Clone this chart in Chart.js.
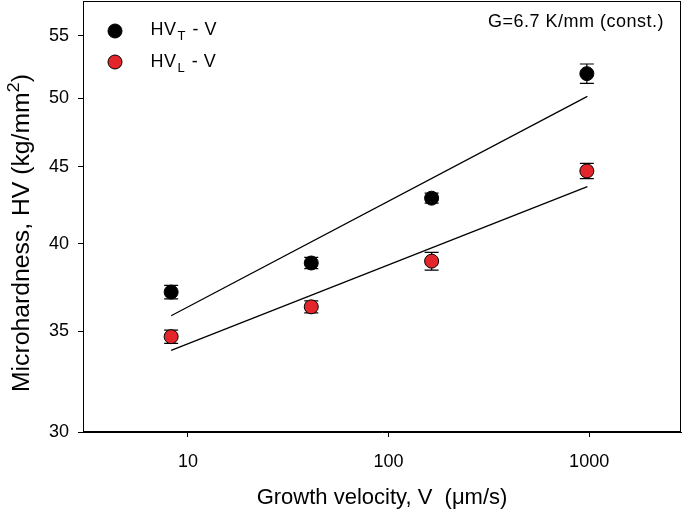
<!DOCTYPE html>
<html>
<head>
<meta charset="utf-8">
<script src="https://cdn.jsdelivr.net/npm/chart.js@4/dist/chart.umd.min.js"></script>
<style>
  html, body { margin: 0; padding: 0; background: #fff; }
  #wrap { width: 685px; height: 516px; position: relative; }
</style>
</head>
<body>
<div id="wrap"><canvas id="c"></canvas></div>
<script>
// ---- data ----
const velocity = [8.25, 41.2, 164, 974];          // growth velocity V (µm/s)
const hvT = [37.16, 38.85, 42.9, 51.9];           // HV_T (kg/mm^2)
const hvTErr = [0.38, 0.33, 0.33, 0.77];
const hvL = [34.71, 36.33, 38.96, 44.72];         // HV_L (kg/mm^2)
const hvLErr = [0.35, 0.33, 0.53, 0.52];
const fitV = [8.25, 980];                         // fit line end points (V)
const fitT = [35.84, 50.13];
const fitL = [33.99, 43.67];
const xTicks = [10, 100, 1000];
const yTicks = [30, 35, 40, 45, 50, 55];
const legendLabels = [["HV", "T", " - V"], ["HV", "L", " - V"]];
const annotationText = "G=6.7 K/mm (const.)";
const xTitle = "Growth velocity, V  (\u03BCm/s)";
const yTitleParts = ["Microhardness, HV (kg/mm", "2", ")"];

const RED = '#e2262b';
const FONT = "'Liberation Sans', Arial, sans-serif";

const pts = (xs, ys) => xs.map((x, i) => ({x: x, y: ys[i]}));

const errorBars = {
  id: 'errorBars',
  beforeDatasetsDraw(chart) {
    const ctx = chart.ctx, xs = chart.scales.x, ys = chart.scales.y;
    ctx.save();
    ctx.strokeStyle = '#000';
    ctx.lineWidth = 1.2;
    [[hvT, hvTErr], [hvL, hvLErr]].forEach(([vals, errs]) => {
      vals.forEach((v, i) => {
        const px = xs.getPixelForValue(velocity[i]);
        const top = ys.getPixelForValue(v + errs[i]);
        const bot = ys.getPixelForValue(v - errs[i]);
        ctx.beginPath();
        ctx.moveTo(px, top); ctx.lineTo(px, bot);
        ctx.moveTo(px - 7, top); ctx.lineTo(px + 7, top);
        ctx.moveTo(px - 7, bot); ctx.lineTo(px + 7, bot);
        ctx.stroke();
      });
    });
    ctx.restore();
  }
};

const decorations = {
  id: 'decorations',
  afterDraw(chart) {
    const ctx = chart.ctx, a = chart.chartArea;
    ctx.save();
    // frame
    ctx.strokeStyle = '#000';
    ctx.lineWidth = 1;
    ctx.strokeRect(a.left + 0.5, a.top + 0.5, a.right - a.left - 1, a.bottom - a.top - 1);

    ctx.fillStyle = '#000';
    ctx.textBaseline = 'alphabetic';
    // annotation
    ctx.font = '18px ' + FONT;
    ctx.letterSpacing = '0.5px';
    ctx.textAlign = 'left';
    ctx.fillText(annotationText, 488, 27);

    // legend
    const rows = [{y: 31, base: 35, color: '#000'}, {y: 62, base: 66.5, color: RED}];
    rows.forEach((r, i) => {
      ctx.beginPath();
      ctx.arc(115, r.y, 7, 0, Math.PI * 2);
      ctx.fillStyle = r.color;
      ctx.fill();
      ctx.lineWidth = 1;
      ctx.strokeStyle = '#000';
      ctx.stroke();
      ctx.fillStyle = '#000';
      let x = 150.5;
      const [a1, sub, a2] = legendLabels[i];
      ctx.font = '18px ' + FONT;
      ctx.fillText(a1, x, r.base);
      x += ctx.measureText(a1).width + 1;
      ctx.font = '13px ' + FONT;
      ctx.fillText(sub, x, r.base + 5);
      x += ctx.measureText(sub).width + 1;
      ctx.font = '18px ' + FONT;
      ctx.fillText(a2, x, r.base);
    });
    ctx.letterSpacing = '0px';

    // x title
    ctx.font = '22px ' + FONT;
    ctx.textAlign = 'center';
    ctx.fillText(xTitle, 382, 504);

    // y title (rotated, with superscript), stretched to the reference length
    ctx.translate(29, 233);
    ctx.rotate(-Math.PI / 2);
    ctx.textAlign = 'left';
    ctx.font = '23px ' + FONT;
    const w1 = ctx.measureText(yTitleParts[0]).width;
    const w3 = ctx.measureText(yTitleParts[2]).width;
    ctx.font = '17px ' + FONT;
    const w2 = ctx.measureText(yTitleParts[1]).width;
    const total = w1 + w2 + w3;
    const target = 318;
    ctx.scale(target / total, 1);
    let x0 = -total / 2;
    ctx.font = '23px ' + FONT;
    ctx.fillText(yTitleParts[0], x0, 0);
    ctx.font = '17px ' + FONT;
    ctx.fillText(yTitleParts[1], x0 + w1, -10);
    ctx.font = '23px ' + FONT;
    ctx.fillText(yTitleParts[2], x0 + w1 + w2, 0);
    ctx.restore();
  }
};

const zeroPad = s => { s.paddingTop = 0; s.paddingBottom = 0; s.paddingLeft = 0; s.paddingRight = 0; };

const axisCommon = {
  type: 'logarithmic',
  grid: { display: true, drawOnChartArea: false, drawTicks: true, tickLength: 5, color: '#000', lineWidth: 1 },
  border: { display: true, color: '#000', width: 1 },
};

new Chart(document.getElementById('c'), {
  type: 'scatter',
  data: {
    datasets: [
      { label: 'fitT', data: pts(fitV, fitT), showLine: true, borderColor: '#000', borderWidth: 1.3, pointRadius: 0, order: 3 },
      { label: 'fitL', data: pts(fitV, fitL), showLine: true, borderColor: '#000', borderWidth: 1.3, pointRadius: 0, order: 3 },
      { label: 'HV_T - V', data: pts(velocity, hvT), pointRadius: 7, pointBackgroundColor: '#000', pointBorderColor: '#000', pointBorderWidth: 1, showLine: false, order: 1 },
      { label: 'HV_L - V', data: pts(velocity, hvL), pointRadius: 7, pointBackgroundColor: RED, pointBorderColor: '#000', pointBorderWidth: 1, showLine: false, order: 1 },
    ]
  },
  options: {
    responsive: true,
    maintainAspectRatio: false,
    animation: false,
    events: [],
    layout: { autoPadding: false, padding: { left: 0, top: 1, right: 4, bottom: 0 } },
    plugins: { legend: { display: false }, tooltip: { enabled: false } },
    scales: {
      x: Object.assign({}, axisCommon, {
        position: 'bottom', min: 3, max: 2870,
        afterBuildTicks: s => { s.ticks = xTicks.map(v => ({value: v})); },
        afterFit: s => { s.height = 84; zeroPad(s); },
        ticks: { color: '#000', font: { family: FONT, size: 18 }, padding: 14, autoSkip: false, maxRotation: 0, callback: v => String(v) },
      }),
      y: Object.assign({}, axisCommon, {
        position: 'left', min: 30, max: 58,
        afterBuildTicks: s => { s.ticks = yTicks.map(v => ({value: v})); },
        afterFit: s => { s.width = 83; zeroPad(s); },
        ticks: { color: '#000', font: { family: FONT, size: 18 }, padding: 9, autoSkip: false, callback: v => String(v) },
      }),
    }
  },
  plugins: [errorBars, decorations]
});
</script>
</body>
</html>
